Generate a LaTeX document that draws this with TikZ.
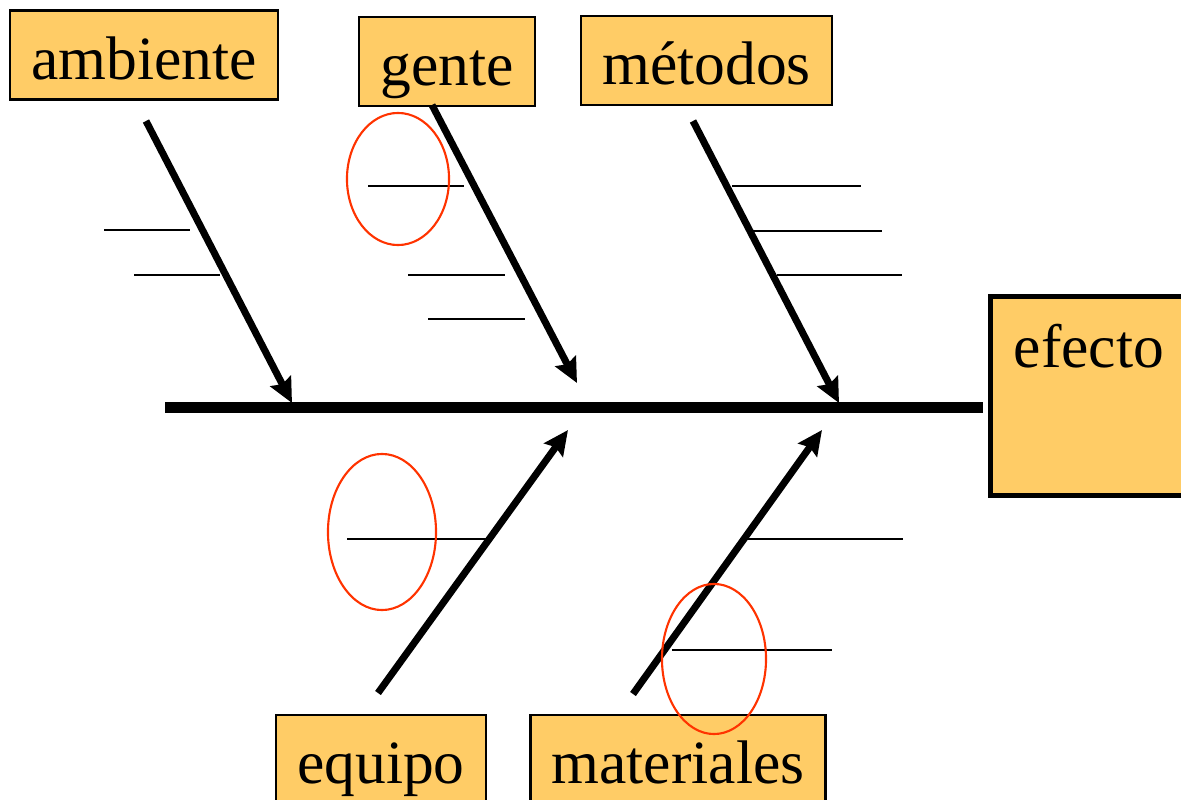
\documentclass[tikz,border=0pt]{standalone}
\usepackage{fontspec}
\setmainfont{Liberation Serif}
\usepackage{tikz}
\usetikzlibrary{arrows.meta, shapes.geometric}
\definecolor{boxfill}{HTML}{FFCC66}
\definecolor{ringred}{HTML}{FF3300}

\begin{document}
\begin{tikzpicture}[x=0.01cm, y=-0.01cm, font=\fontsize{17.5}{21}\selectfont,
  >={Stealth[length=7pt, width=6.5pt, inset=1pt]},
  causebox/.style={draw, line width=0.6pt, fill=boxfill, inner xsep=6pt, inner ysep=2pt, minimum height=0.89cm, text height=16pt, text depth=2.3pt},
  bone/.style={->, line width=2pt},
  rib/.style={line width=0.5pt},
  redring/.style={draw=ringred, ellipse, line width=0.6pt, inner sep=0pt}]
\useasboundingbox (0,0) rectangle (1181,800);
% cause boxes
\node[causebox] (ambiente) at (144,55) {ambiente};
\node[causebox] (gente) at (447,61.5) {gente};
\node[causebox] (metodos) at (706.5,60.5) {métodos};
\node[causebox] (equipo) at (381,759.5) {equipo};
\node[causebox] (materiales) at (678,759.5) {materiales};
% effect box
\node[draw, line width=1.5pt, fill=boxfill, anchor=north west, outer sep=0pt, minimum width=2.2cm, minimum height=1.99cm] (efecto) at (990.5,296.5) {};
\node[anchor=base west, inner sep=0pt] (efectotxt) at (1013,367) {efecto};
% spine
\coordinate (spinetail) at (165,407.5);
\draw[line width=3pt, shorten >=0.075cm] (spinetail) -- (efecto.west |- spinetail);
% bones
\coordinate (ambtail) at (146,121);  \coordinate (ambtip) at (292,403);
\coordinate (gentail) at (432,105);  \coordinate (gentip) at (577,383);
\coordinate (mettail) at (693,121);  \coordinate (mettip) at (839,403);
\coordinate (equtail) at (378,693);  \coordinate (equtip) at (568,430);
\coordinate (mattail) at (633,694);  \coordinate (mattip) at (822,430);
\draw[bone] (ambtail) -- (ambtip);
\draw[bone] (gentail) -- (gentip);
\draw[bone] (mettail) -- (mettip);
\draw[bone] (equtail) -- (equtip);
\draw[bone] (mattail) -- (mattip);
% ribs
\draw[rib] (104,230) -- (190,230); \draw[rib] (134,275) -- (220,275);
\draw[rib] (368,186) -- (464,186); \draw[rib] (408,275) -- (505,275); \draw[rib] (428,319) -- (525,319);
\draw[rib] (732,186) -- (861,186); \draw[rib] (753,231) -- (882,231); \draw[rib] (777,275) -- (902,275);
\draw[rib] (347,539) -- (487,539);
\draw[rib] (747,539) -- (903,539); \draw[rib] (672,650) -- (832,650);
% marks
\node[redring, minimum width=1.02cm, minimum height=1.32cm] (ringgente) at (398,179) {};
\node[redring, minimum width=1.08cm, minimum height=1.56cm] (ringequipo) at (382,532) {};
\node[redring, minimum width=1.04cm, minimum height=1.50cm] (ringmat) at (714,659) {};
\end{tikzpicture}
\end{document}
